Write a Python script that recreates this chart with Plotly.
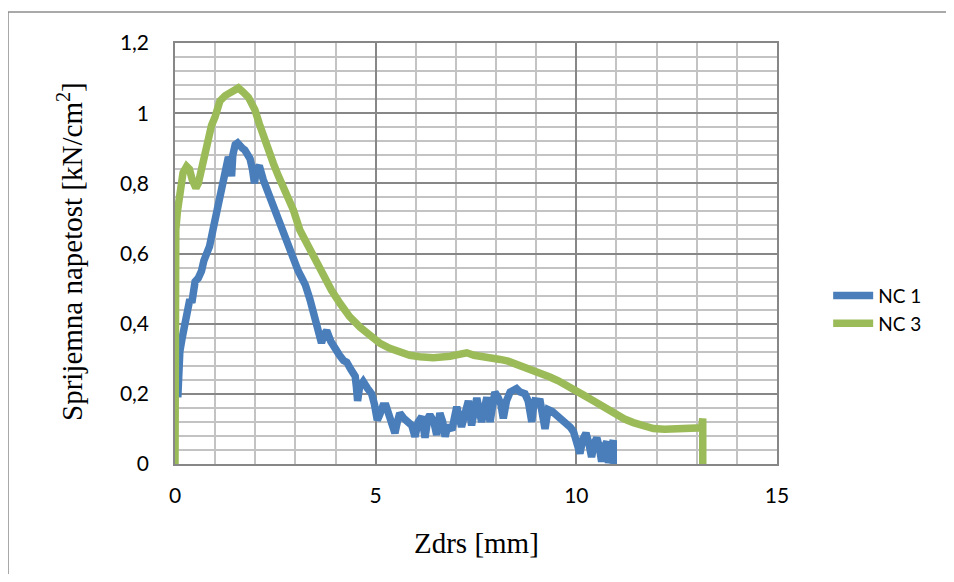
import plotly.graph_objects as go

# NC 1 (blue) — slip [mm] and bond stress [kN/cm2]
nc1_x = [0.07, 0.09, 0.12, 0.18, 0.25, 0.30, 0.37, 0.42, 0.50, 0.58, 0.66, 0.72, 0.80, 0.86,
         0.95, 1.00, 1.07, 1.13, 1.20, 1.27, 1.33, 1.38, 1.41, 1.44, 1.50, 1.56, 1.62, 1.68,
         1.74, 1.80, 1.87, 1.93, 1.98, 2.03, 2.10, 2.20, 2.33, 2.45, 2.57, 2.70, 2.82, 2.95,
         3.07, 3.16, 3.25, 3.36, 3.45, 3.53, 3.60, 3.65, 3.72, 3.78, 3.88, 3.99, 4.10, 4.20,
         4.28, 4.38, 4.49, 4.52, 4.55, 4.60, 4.69, 4.80, 4.90, 4.97, 5.04, 5.10, 5.18, 5.26,
         5.35, 5.42, 5.48, 5.54, 5.60, 5.70, 5.81, 5.90, 5.98, 6.06, 6.15, 6.23, 6.30, 6.35,
         6.45, 6.52, 6.60, 6.67, 6.73, 6.80, 6.90, 6.96, 7.02, 7.14, 7.22, 7.31, 7.39, 7.45,
         7.52, 7.64, 7.70, 7.77, 7.85, 7.92, 7.97, 8.05, 8.12, 8.18, 8.26, 8.35, 8.45, 8.51,
         8.60, 8.72, 8.80, 8.89, 8.93, 8.97, 9.10, 9.16, 9.22, 9.26, 9.30, 9.40, 9.51, 9.63,
         9.76, 9.85, 9.93, 10.00, 10.05, 10.09, 10.16, 10.24, 10.31, 10.38, 10.45, 10.51,
         10.57, 10.63, 10.70, 10.76, 10.80, 10.86, 10.92, 10.92]
nc1_y = [0.19, 0.26, 0.32, 0.36, 0.41, 0.44, 0.47, 0.46, 0.52, 0.53, 0.55, 0.58, 0.60, 0.62,
         0.67, 0.70, 0.74, 0.78, 0.81, 0.85, 0.875, 0.86, 0.82, 0.88, 0.91, 0.915, 0.905, 0.90,
         0.895, 0.88, 0.87, 0.84, 0.80, 0.84, 0.85, 0.81, 0.77, 0.73, 0.69, 0.65, 0.62, 0.575,
         0.55, 0.53, 0.51, 0.47, 0.43, 0.40, 0.38, 0.345, 0.37, 0.38, 0.35, 0.325, 0.31, 0.295,
         0.29, 0.27, 0.25, 0.22, 0.18, 0.22, 0.235, 0.215, 0.20, 0.17, 0.125, 0.14, 0.165, 0.165,
         0.13, 0.11, 0.088, 0.12, 0.145, 0.13, 0.12, 0.11, 0.078, 0.12, 0.135, 0.075, 0.13, 0.14,
         0.12, 0.083, 0.145, 0.12, 0.078, 0.11, 0.097, 0.13, 0.163, 0.106, 0.15, 0.18, 0.11, 0.16,
         0.188, 0.12, 0.17, 0.19, 0.12, 0.18, 0.205, 0.19, 0.17, 0.13, 0.18, 0.205, 0.21, 0.215,
         0.205, 0.20, 0.18, 0.12, 0.16, 0.18, 0.178, 0.14, 0.10, 0.13, 0.155, 0.15, 0.14, 0.13,
         0.117, 0.105, 0.092, 0.07, 0.045, 0.03, 0.07, 0.088, 0.06, 0.02, 0.06, 0.075,
         0.05, 0.007, 0.05, 0.064, 0.003, 0.05, 0.068, 0.0]

# NC 3 (green)
nc3_x = [0.0, 0.0, 0.02, 0.06, 0.12, 0.20, 0.29, 0.36, 0.43, 0.52, 0.58, 0.66, 0.75, 0.83,
         0.91, 1.00, 1.12, 1.25, 1.37, 1.47, 1.58, 1.70, 1.83, 1.92, 1.99, 2.10, 2.20, 2.33,
         2.45, 2.58, 2.70, 2.87, 2.95, 3.11, 3.28, 3.50, 3.70, 3.90, 4.11, 4.35, 4.61, 4.85,
         5.11, 5.35, 5.61, 5.85, 6.10, 6.44, 6.85, 7.10, 7.27, 7.45, 7.60, 7.85, 8.10, 8.30,
         8.51, 8.72, 8.93, 9.14, 9.34, 9.55, 9.76, 9.97, 10.17, 10.38, 10.59, 10.80, 11.00,
         11.20, 11.42, 11.65, 11.92, 12.20, 12.42, 12.80, 13.12, 13.15, 13.15]
nc3_y = [0.0, 0.5, 0.667, 0.72, 0.78, 0.83, 0.848, 0.84, 0.81, 0.787, 0.80, 0.84, 0.89, 0.925,
         0.965, 0.99, 1.035, 1.05, 1.057, 1.065, 1.072, 1.06, 1.045, 1.025, 1.01, 0.97, 0.935,
         0.895, 0.857, 0.82, 0.79, 0.75, 0.724, 0.667, 0.63, 0.58, 0.534, 0.495, 0.458, 0.42,
         0.39, 0.365, 0.344, 0.33, 0.318, 0.31, 0.306, 0.303, 0.307, 0.312, 0.317, 0.31, 0.306,
         0.303, 0.298, 0.293, 0.285, 0.277, 0.268, 0.258, 0.248, 0.237, 0.225, 0.211, 0.197,
         0.183, 0.168, 0.153, 0.14, 0.128, 0.118, 0.108, 0.101, 0.099, 0.10, 0.101, 0.103,
         0.13, 0.0]

series_names = ["NC 1", "NC 3"]
x_tick_vals = [0, 5, 10, 15]
y_tick_vals = [0, 0.2, 0.4, 0.6, 0.8, 1.0, 1.2]
x_title = "Zdrs [mm]"
y_title = "Sprijemna napetost [kN/cm<sup>2</sup>]"

BLUE = "#4a7ebb"
GREEN = "#9bbb59"
MAJOR = "#878787"
MINOR = "#c3c3c3"
TICKFONT = dict(family="Lato, Open Sans, sans-serif", size=21, color="#000000")
SERIF = dict(family="Liberation Serif, Times New Roman, serif", size=29, color="#000000")

fig = go.Figure()
fig.add_trace(go.Scatter(x=nc1_x, y=nc1_y, mode="lines", name=series_names[0],
                         line=dict(color=BLUE, width=7.5)))
fig.add_trace(go.Scatter(x=nc3_x, y=nc3_y, mode="lines", name=series_names[1],
                         line=dict(color=GREEN, width=7.5)))

# page body has an 8px margin; keep the figure small enough that no scrollbar appears
fig.update_layout(
    width=946, height=566,
    margin=dict(l=167, r=177, t=35, b=110),
    paper_bgcolor="white", plot_bgcolor="white",
    separators=", ",
    showlegend=True,
    legend=dict(x=1.085, y=0.445, xanchor="left", yanchor="top", itemwidth=40,
                font=dict(family="Lato, Open Sans, sans-serif", size=19, color="#000000"),
                bgcolor="rgba(0,0,0,0)", tracegroupgap=0),
    xaxis=dict(range=[0, 15], tickvals=x_tick_vals, showgrid=True, gridcolor=MAJOR,
               gridwidth=1.5, zeroline=False, showline=True, linecolor=MAJOR, linewidth=1.5,
               mirror=True, ticks="", tickfont=TICKFONT, ticklabelstandoff=12,
               minor=dict(dtick=1, showgrid=True, gridcolor=MINOR, gridwidth=1.5)),
    yaxis=dict(range=[0, 1.2], tickvals=y_tick_vals, showgrid=True, gridcolor=MAJOR,
               gridwidth=1.5, zeroline=False, showline=True, linecolor=MAJOR, linewidth=1.5,
               mirror=True, ticks="", tickfont=TICKFONT, ticklabelstandoff=20,
               minor=dict(dtick=0.04, showgrid=True, gridcolor=MINOR, gridwidth=1.5)),
    annotations=[
        dict(text=x_title, xref="paper", yref="paper", x=0.5, y=-0.1876,
             xanchor="center", yanchor="middle", showarrow=False, font=SERIF),
        dict(text=y_title, xref="paper", yref="paper", x=-0.1744, y=0.5036,
             xanchor="center", yanchor="middle", showarrow=False, textangle=-90, font=SERIF),
    ],
    shapes=[
        # chart-area frame: only its top and left edges fall inside the picture
        dict(type="line", xref="paper", yref="paper", x0=-0.2774, y0=1.0736, x1=1.294, y1=1.0736,
             line=dict(color="#8c8c8c", width=1.5), layer="below"),
        dict(type="line", xref="paper", yref="paper", x0=-0.2774, y0=1.0736, x1=-0.2774, y1=-0.27,
             line=dict(color="#8c8c8c", width=1.5), layer="below"),
    ],
)

fig.write_html("out.html")
